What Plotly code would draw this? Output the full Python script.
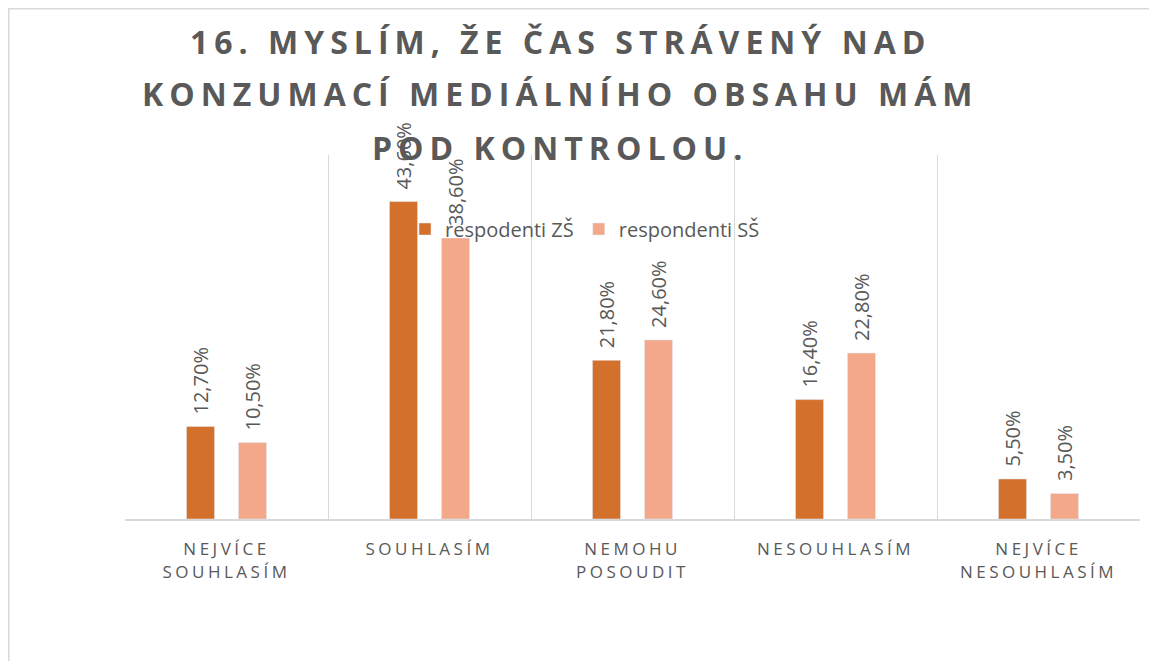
import plotly.graph_objects as go

categories = ["NEJVÍCE<br>SOUHLASÍM", "SOUHLASÍM", "NEMOHU<br>POSOUDIT", "NESOUHLASÍM", "NEJVÍCE<br>NESOUHLASÍM"]
zs_values = [12.7, 43.6, 21.8, 16.4, 5.5]
ss_values = [10.5, 38.6, 24.6, 22.8, 3.5]
series_names = ["respodenti ZŠ", "respondenti SŠ"]
title_lines = ["16. MYSLÍM, ŽE ČAS STRÁVENÝ NAD", "KONZUMACÍ MEDIÁLNÍHO OBSAHU MÁM", "POD KONTROLOU."]

def fmt(v):
    return f"{v:.2f}".replace(".", ",") + "%"

GRAY = "#595959"
fig = go.Figure()
series = [(series_names[0], zs_values, "#D2702C", -26), (series_names[1], ss_values, "#F3A88A", 26)]
for name, vals, color, _ in series:
    fig.add_trace(go.Bar(x=categories, y=vals, name=name, marker_color=color))

for name, vals, color, shift in series:
    for c, v in zip(categories, vals):
        fig.add_annotation(x=c, y=v, xref="x", yref="y", text=fmt(v), textangle=-90,
                           showarrow=False, xanchor="center", yanchor="bottom",
                           xshift=shift, yshift=10,
                           font=dict(family="Open Sans", size=20, color=GRAY))

W, H = 1157, 661
L, R, T, B = 117, 25, 147, 150
pw, ph = W - L - R, H - T - B

def px_x(x):
    return (x - L) / pw

def px_y(y):
    return (H - B - y) / ph

fig.update_layout(
    width=W, height=H,
    margin=dict(l=L, r=R, t=T, b=B),
    paper_bgcolor="white", plot_bgcolor="white",
    barmode="group", bargap=0.488, bargroupgap=0.46,
    showlegend=True,
    legend=dict(orientation="h", x=px_x(397), y=px_y(221), yanchor="middle", xanchor="left",
                font=dict(family="Open Sans", size=20, color=GRAY), bgcolor="rgba(0,0,0,0)",
                itemwidth=30, tracegroupgap=0),
    xaxis=dict(tickson="boundaries", showgrid=True, gridcolor="#D9D9D9", gridwidth=1,
               showline=True, linecolor="#D9D9D9", linewidth=2, ticks="",
               ticklabelstandoff=14,
               tickfont=dict(family="Open Sans", size=17, color=GRAY)),
    yaxis=dict(range=[0, 50], visible=False, showgrid=False),
)

for i, line in enumerate(title_lines):
    fig.add_annotation(text=f"<b>{line}</b>", xref="paper", yref="paper",
                       x=px_x(552), y=px_y(33 + 53 * i), xanchor="center", yanchor="middle",
                       showarrow=False, font=dict(family="Open Sans", size=32, color=GRAY),
                       name="title")

fig.add_shape(type="rect", xref="paper", yref="paper",
              x0=px_x(0.5), x1=px_x(1180), y0=px_y(0.5), y1=px_y(700),
              line=dict(color="#D9D9D9", width=2), fillcolor="rgba(0,0,0,0)", layer="below")

post = """
document.querySelectorAll('.annotation-text').forEach(function(e){
  if (e.textContent.indexOf('%') < 0) { e.style.letterSpacing='6px'; }
});
document.querySelectorAll('.xtick text').forEach(function(e){e.style.letterSpacing='3.5px';});
"""

fig.write_html("out.html", post_script=post)
